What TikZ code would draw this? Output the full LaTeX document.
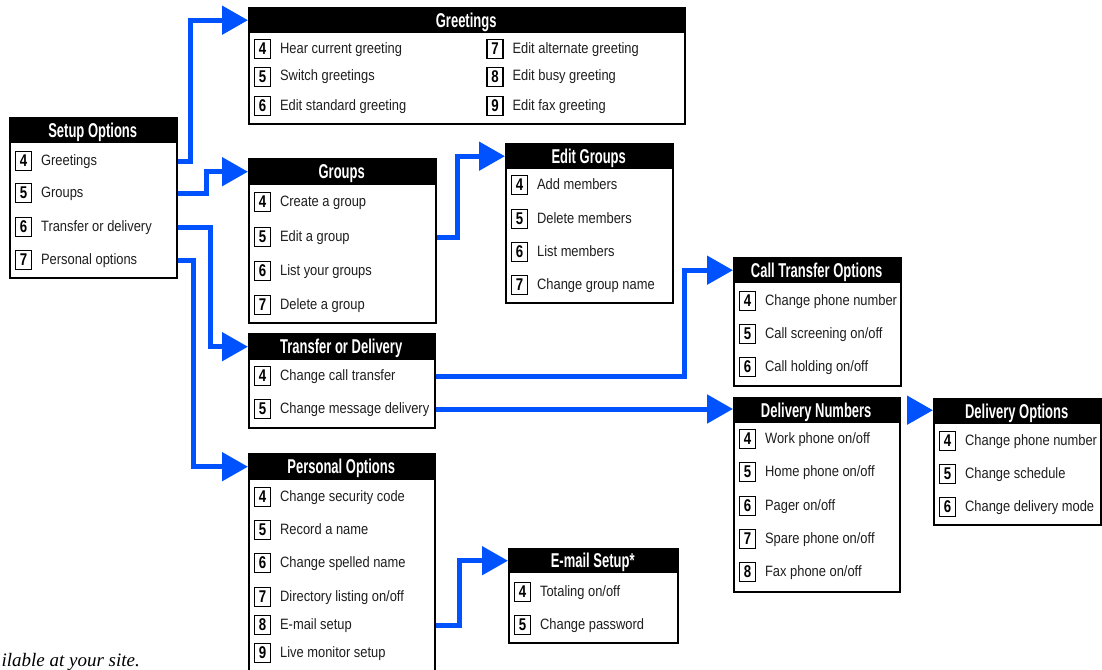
\documentclass[tikz,border=0pt]{standalone}
\usepackage{fontspec}
\usetikzlibrary{arrows.meta,positioning}
\setmainfont{Liberation Sans}
\newfontfamily\titlefont{Liberation Sans}[FakeStretch=0.65]
\newfontfamily\keyfont{Liberation Sans}[FakeStretch=0.78]
\newfontfamily\entryfont{Liberation Sans}[FakeStretch=0.86]
\newfontfamily\notefont{Liberation Serif}
\definecolor{linkblue}{RGB}{0,82,255}
\definecolor{entrygray}{RGB}{30,30,30}

\tikzset{
  menu/.style={draw, line width=2pt, anchor=north west, inner sep=0pt},
  menutitle/.style={fill=black, text=white, anchor=north west, inner sep=0pt,
    font=\titlefont\bfseries\fontsize{20}{20}\selectfont, text height=14.5pt, text depth=0pt},
  keybox/.style={draw, line width=1.8pt, fill=white, minimum width=16pt, minimum height=19pt,
    inner sep=0pt, font=\keyfont\bfseries\fontsize{17}{17}\selectfont},
  entry/.style={inner sep=0pt, text=entrygray, text height=11pt, text depth=3pt,
    font=\entryfont\fontsize{15}{15}\selectfont},
  link/.style={draw=linkblue, line width=5pt, -{Triangle[length=26pt,width=28pt]}},
}

\begin{document}
\begin{tikzpicture}[x=1pt, y=-1pt]
\useasboundingbox (0,0) rectangle (1102,669);
\clip (0,0) rectangle (1102,669);

% setup options
\node[menu, minimum width=167pt, minimum height=160pt] (setbox) at (9,117) {};
\node[menutitle, minimum width=167pt, minimum height=26pt] (set) at (setbox.north west) {Setup Options};
\node[keybox] (set4) at (23.5,161) {4};
\node[entry, right=8.5pt of set4] (set4t) {Greetings};
\node[keybox] (set5) at (23.5,193) {5};
\node[entry, right=8.5pt of set5] (set5t) {Groups};
\node[keybox] (set6) at (23.5,227) {6};
\node[entry, right=8.5pt of set6] (set6t) {Transfer or delivery};
\node[keybox] (set7) at (23.5,260) {7};
\node[entry, right=8.5pt of set7] (set7t) {Personal options};

% greetings
\node[menu, minimum width=436pt, minimum height=116pt] (grtbox) at (248,7) {};
\node[menutitle, minimum width=436pt, minimum height=26pt] (grt) at (grtbox.north west) {Greetings};
\node[keybox] (grt4) at (262.5,49) {4};
\node[entry, right=8.5pt of grt4] (grt4t) {Hear current greeting};
\node[keybox] (grt5) at (262.5,77) {5};
\node[entry, right=8.5pt of grt5] (grt5t) {Switch greetings};
\node[keybox] (grt6) at (262.5,106) {6};
\node[entry, right=8.5pt of grt6] (grt6t) {Edit standard greeting};
\node[keybox] (grt7) at (495,49) {7};
\node[entry, right=8.5pt of grt7] (grt7t) {Edit alternate greeting};
\node[keybox] (grt8) at (495,77) {8};
\node[entry, right=8.5pt of grt8] (grt8t) {Edit busy greeting};
\node[keybox] (grt9) at (495,106) {9};
\node[entry, right=8.5pt of grt9] (grt9t) {Edit fax greeting};

% groups
\node[menu, minimum width=187pt, minimum height=164pt] (grpbox) at (248,158) {};
\node[menutitle, minimum width=187pt, minimum height=27pt] (grp) at (grpbox.north west) {Groups};
\node[keybox] (grp4) at (262.5,202) {4};
\node[entry, right=8.5pt of grp4] (grp4t) {Create a group};
\node[keybox] (grp5) at (262.5,237) {5};
\node[entry, right=8.5pt of grp5] (grp5t) {Edit a group};
\node[keybox] (grp6) at (262.5,271) {6};
\node[entry, right=8.5pt of grp6] (grp6t) {List your groups};
\node[keybox] (grp7) at (262.5,305) {7};
\node[entry, right=8.5pt of grp7] (grp7t) {Delete a group};

% edit groups
\node[menu, minimum width=167pt, minimum height=159pt] (egrbox) at (505,143) {};
\node[menutitle, minimum width=167pt, minimum height=26pt] (egr) at (egrbox.north west) {Edit Groups};
\node[keybox] (egr4) at (519.5,185) {4};
\node[entry, right=8.5pt of egr4] (egr4t) {Add members};
\node[keybox] (egr5) at (519.5,219) {5};
\node[entry, right=8.5pt of egr5] (egr5t) {Delete members};
\node[keybox] (egr6) at (519.5,252) {6};
\node[entry, right=8.5pt of egr6] (egr6t) {List members};
\node[keybox] (egr7) at (519.5,285) {7};
\node[entry, right=8.5pt of egr7] (egr7t) {Change group name};

% transfer or delivery
\node[menu, minimum width=186pt, minimum height=94pt] (trnbox) at (248,333) {};
\node[menutitle, minimum width=186pt, minimum height=27pt] (trn) at (trnbox.north west) {Transfer or Delivery};
\node[keybox] (trn4) at (262.5,376) {4};
\node[entry, right=8.5pt of trn4] (trn4t) {Change call transfer};
\node[keybox] (trn5) at (262.5,409) {5};
\node[entry, right=8.5pt of trn5] (trn5t) {Change message delivery};

% call transfer options
\node[menu, minimum width=167pt, minimum height=128pt] (ctobox) at (733,257) {};
\node[menutitle, minimum width=167pt, minimum height=26pt] (cto) at (ctobox.north west) {Call Transfer Options};
\node[keybox] (cto4) at (747.5,301) {4};
\node[entry, right=8.5pt of cto4] (cto4t) {Change phone number};
\node[keybox] (cto5) at (747.5,334) {5};
\node[entry, right=8.5pt of cto5] (cto5t) {Call screening on/off};
\node[keybox] (cto6) at (747.5,367) {6};
\node[entry, right=8.5pt of cto6] (cto6t) {Call holding on/off};

% delivery numbers
\node[menu, minimum width=166pt, minimum height=194pt] (dnmbox) at (733,397) {};
\node[menutitle, minimum width=166pt, minimum height=26pt] (dnm) at (dnmbox.north west) {Delivery Numbers};
\node[keybox] (dnm4) at (747.5,439) {4};
\node[entry, right=8.5pt of dnm4] (dnm4t) {Work phone on/off};
\node[keybox] (dnm5) at (747.5,472) {5};
\node[entry, right=8.5pt of dnm5] (dnm5t) {Home phone on/off};
\node[keybox] (dnm6) at (747.5,506) {6};
\node[entry, right=8.5pt of dnm6] (dnm6t) {Pager on/off};
\node[keybox] (dnm7) at (747.5,539) {7};
\node[entry, right=8.5pt of dnm7] (dnm7t) {Spare phone on/off};
\node[keybox] (dnm8) at (747.5,572) {8};
\node[entry, right=8.5pt of dnm8] (dnm8t) {Fax phone on/off};

% delivery options
\node[menu, minimum width=167pt, minimum height=126pt] (dopbox) at (933,398) {};
\node[menutitle, minimum width=167pt, minimum height=26pt] (dop) at (dopbox.north west) {Delivery Options};
\node[keybox] (dop4) at (947.5,441) {4};
\node[entry, right=8.5pt of dop4] (dop4t) {Change phone number};
\node[keybox] (dop5) at (947.5,474) {5};
\node[entry, right=8.5pt of dop5] (dop5t) {Change schedule};
\node[keybox] (dop6) at (947.5,507) {6};
\node[entry, right=8.5pt of dop6] (dop6t) {Change delivery mode};

% personal options
\node[menu, minimum width=186pt, minimum height=240pt] (perbox) at (248,453) {};
\node[menutitle, minimum width=186pt, minimum height=27pt] (per) at (perbox.north west) {Personal Options};
\node[keybox] (per4) at (262.5,497) {4};
\node[entry, right=8.5pt of per4] (per4t) {Change security code};
\node[keybox] (per5) at (262.5,530) {5};
\node[entry, right=8.5pt of per5] (per5t) {Record a name};
\node[keybox] (per6) at (262.5,563) {6};
\node[entry, right=8.5pt of per6] (per6t) {Change spelled name};
\node[keybox] (per7) at (262.5,597) {7};
\node[entry, right=8.5pt of per7] (per7t) {Directory listing on/off};
\node[keybox] (per8) at (262.5,625) {8};
\node[entry, right=8.5pt of per8] (per8t) {E-mail setup};
\node[keybox] (per9) at (262.5,653) {9};
\node[entry, right=8.5pt of per9] (per9t) {Live monitor setup};

% e-mail setup
\node[menu, minimum width=169pt, minimum height=94pt] (emlbox) at (508,548) {};
\node[menutitle, minimum width=169pt, minimum height=25pt] (eml) at (emlbox.north west) {E-mail Setup*};
\node[keybox] (eml4) at (522.5,592) {4};
\node[entry, right=8.5pt of eml4] (eml4t) {Totaling on/off};
\node[keybox] (eml5) at (522.5,625) {5};
\node[entry, right=8.5pt of eml5] (eml5t) {Change password};

% footnote
\node[anchor=base east, inner sep=0pt, font=\notefont\itshape\fontsize{19}{19}\selectfont] (note) at (140,666) {ilable at your site.};

% links
\draw[link] (setbox.east |- set4) -- ++(12,0) |- (grt.west);
\draw[link] (setbox.east |- set5) -- ++(28,0) |- (grp.west);
\draw[link] (setbox.east |- set6) -- ++(32,0) |- (trn.west);
\draw[link] (setbox.east |- set7) -- ++(15,0) |- (per.west);
\draw[link] (grpbox.east |- grp5) -- ++(20,0) |- (egr.west);
\draw[link] (trnbox.east |- trn4) -| ([xshift=-49pt]cto.west) -- (cto.west);
\draw[link] (trnbox.east |- trn5) -- (dnmbox.west |- trn5);
\draw[link, shorten <=8pt] (dnm.east) -- (dop.west |- dnm.east);
\draw[link] (perbox.east |- per8) -- ++(23,0) |- (eml.west);
\end{tikzpicture}
\end{document}
